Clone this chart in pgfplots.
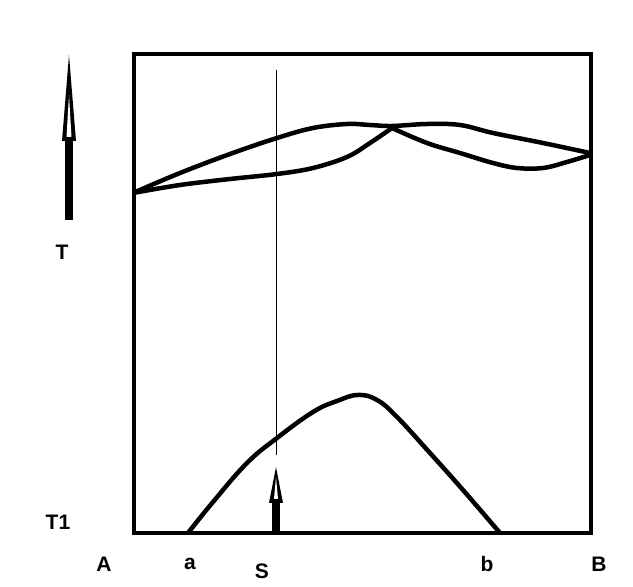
\documentclass[border=0pt]{standalone}
\usepackage{fontspec}
\setmainfont{Liberation Sans}
\usepackage{pgfplots}
\pgfplotsset{compat=1.18}
\begin{document}
\begin{tikzpicture}[x=1pt,y=1pt]
\begin{axis}[
  scale only axis, width=457pt, height=479pt,
  xmin=134, xmax=591, ymin=54, ymax=533,
  xtick=\empty, ytick=\empty,
  axis line style={line width=4.5pt},
  clip=false,
]
% invisible bounding box matching the reference canvas
\path[use as bounding box] (axis cs:0,0) rectangle (axis cs:633,587);
% upper curve
\addplot[black, line width=4.5pt, smooth, tension=0.6] coordinates {
 (133,394) (180,414) (230,433) (277,449) (313,459) (347,463) (370,462)
 (392,461) (427,463) (460,462) (493,454) (543,444) (590,434)};
% lower curve, left part
\addplot[black, line width=4.5pt, smooth, tension=0.6] coordinates {
 (133,394) (180,402) (230,408) (277,413) (313,419) (347,430) (370,444) (392,459)};
% lower curve, right part
\addplot[black, line width=4.5pt, smooth, tension=0.6] coordinates {
 (392,459) (427,444) (460,434) (493,424) (517,419) (543,419) (567,425) (590,432)};
% bottom dome
\addplot[black, line width=4.5pt, smooth, tension=0.7] coordinates {
 (188,54) (213,85) (247,124) (277,149) (313,175) (337,186) (358,192)
 (377,187) (397,170) (430,134) (463,97) (500,54)};
% thin vertical line at S
\addplot[black, line width=1pt] coordinates {(277,517) (277,132)};
% left arrow (T axis)
\fill[black] (axis cs:62,446) -- (axis cs:69,532) -- (axis cs:76,446) -- cycle;
\fill[white] (axis cs:66.5,450) -- (axis cs:69,492) -- (axis cs:71.5,450) -- cycle;
\fill[black] (axis cs:65,367) rectangle (axis cs:73,448);
% arrow at S
\fill[black] (axis cs:269,84) -- (axis cs:276,120) -- (axis cs:283,84) -- cycle;
\fill[white] (axis cs:274,88) -- (axis cs:276,110) -- (axis cs:278,88) -- cycle;
\fill[black] (axis cs:272,54) rectangle (axis cs:280.5,86);
% labels
\node[font=\fontsize{21}{21}\selectfont\bfseries] at (axis cs:62,335) {T};
\node[font=\fontsize{21}{21}\selectfont\bfseries] at (axis cs:58,65) {T1};
\node[font=\fontsize{21}{21}\selectfont\bfseries] at (axis cs:104,23) {A};
\node[font=\fontsize{21}{21}\selectfont\bfseries] at (axis cs:190,23) {a};
\node[font=\fontsize{21}{21}\selectfont\bfseries] at (axis cs:262,16) {S};
\node[font=\fontsize{21}{21}\selectfont\bfseries] at (axis cs:487,23) {b};
\node[font=\fontsize{21}{21}\selectfont\bfseries] at (axis cs:599,23) {B};
\end{axis}
\end{tikzpicture}
\end{document}
